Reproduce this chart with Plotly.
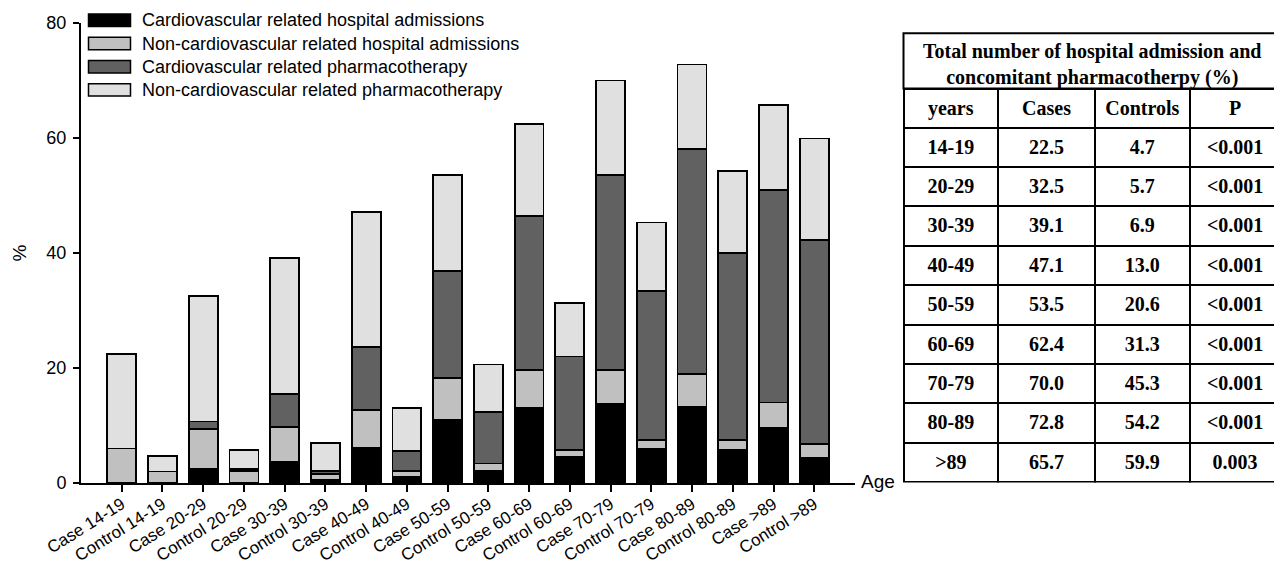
import plotly.graph_objects as go

# ---------------- data ----------------
categories = ["Case 14-19", "Control 14-19", "Case 20-29", "Control 20-29",
              "Case 30-39", "Control 30-39", "Case 40-49", "Control 40-49",
              "Case 50-59", "Control 50-59", "Case 60-69", "Control 60-69",
              "Case 70-79", "Control 70-79", "Case 80-89", "Control 80-89",
              "Case >89", "Control >89"]

cv_hosp = [0.0, 0.0, 2.4, 0.0, 3.6, 0.5, 6.1, 1.0, 10.9,
           2.1, 13.1, 4.6, 13.7, 5.9, 13.2, 5.7, 9.5, 4.4]
noncv_hosp = [6.0, 2.0, 7.0, 2.1, 6.2, 1.0, 6.6, 1.1, 7.3,
              1.3, 6.5, 1.1, 5.9, 1.6, 5.7, 1.8, 4.5, 2.4]
cv_pharm = [0.0, 0.0, 1.3, 0.4, 5.7, 0.6, 10.9, 3.5, 18.7,
            8.9, 26.9, 16.3, 34.0, 25.9, 39.2, 32.5, 36.9, 35.4]
noncv_pharm = [16.5, 2.7, 21.8, 3.2, 23.6, 4.8, 23.5, 7.4, 16.6,
               8.3, 15.9, 9.3, 16.4, 11.9, 14.7, 14.2, 14.8, 17.7]

series_names = ["Cardiovascular related hospital admissions",
                "Non-cardiovascular related hospital admissions",
                "Cardiovascular related pharmacotherapy",
                "Non-cardiovascular related pharmacotherapy"]
series_colors = ["#000000", "#c0c0c0", "#616161", "#e0e0e0"]

y_ticks = [0, 20, 40, 60, 80]

table_title = ["Total number of hospital admission and", "concomitant pharmacotherpy (%)"]
table_header = ["years", "Cases", "Controls", "P"]
years = ["14-19", "20-29", "30-39", "40-49", "50-59", "60-69", "70-79", "80-89", ">89"]
cases_total = ["22.5", "32.5", "39.1", "47.1", "53.5", "62.4", "70.0", "72.8", "65.7"]
controls_total = ["4.7", "5.7", "6.9", "13.0", "20.6", "31.3", "45.3", "54.2", "59.9"]
p_values = ["<0.001", "<0.001", "<0.001", "<0.001", "<0.001", "<0.001", "<0.001", "<0.001", "0.003"]

# ---------------- layout constants ----------------
OFF = 8                       # page body margin of the rendered html
W, H = 1282 - OFF, 566 - OFF
ML, MR, MT, MB = 81 - OFF, 0, 15, 83
PW, PH = W - ML - MR, H - MT - MB

def px_x(x):                  # reference-image pixel -> paper fraction
    return (x - OFF - ML) / PW

def px_y(y):
    return (H - MB - (y - OFF)) / PH

SANS = "Arial, Liberation Sans, sans-serif"
SERIF = "Times New Roman, Liberation Serif, serif"

fig = go.Figure()

xs = list(range(len(categories)))
for name, vals, col in zip(series_names, [cv_hosp, noncv_hosp, cv_pharm, noncv_pharm], series_colors):
    fig.add_trace(go.Bar(x=xs, y=vals, name=name, width=0.71,
                         marker=dict(color=col, line=dict(color="black", width=1.8)),
                         showlegend=False))

# ---------------- table ----------------
def esc(s):
    return s.replace("<", "&lt;").replace(">", "&gt;")

def bold(vals):
    return ["<b>" + esc(v) + "</b>" for v in vals]

tx0, tx1 = px_x(903.5), px_x(1280.5)
colw = [95, 97, 95, 91]

fig.add_trace(go.Table(
    domain=dict(x=[tx0, tx1], y=[0, px_y(88.5)]),
    columnwidth=colw,
    header=dict(values=bold(table_header), height=38.4,
                line=dict(color="black", width=2), fill=dict(color="white"),
                align="center", font=dict(family=SERIF, size=20, color="black")),
    cells=dict(values=[bold(years), bold(cases_total), bold(controls_total), bold(p_values)],
               height=39.4, line=dict(color="black", width=2), fill=dict(color="white"),
               align="center", font=dict(family=SERIF, size=20, color="black")),
))

shapes = []
annotations = []

# spanning title cell of the table
shapes.append(dict(type="rect", xref="paper", yref="paper",
                   x0=tx0, x1=tx1, y0=px_y(88.5), y1=px_y(33.3),
                   fillcolor="white", line=dict(color="black", width=2)))
annotations.append(dict(text="<b>" + "<br>".join(table_title) + "</b>", xref="paper", yref="paper",
                        x=(tx0 + tx1) / 2, y=px_y(64), xanchor="center", yanchor="middle",
                        showarrow=False, align="center",
                        font=dict(family=SERIF, size=20, color="black")))

# ---------------- custom legend ----------------
row_y = [20.3, 43.5, 66.7, 89.9]
for name, col, ry in zip(series_names, series_colors, row_y):
    shapes.append(dict(type="rect", xref="paper", yref="paper",
                       x0=px_x(88.5), x1=px_x(130.5), y0=px_y(ry + 6.2), y1=px_y(ry - 6.2),
                       fillcolor=col, line=dict(color="black", width=1.5)))
    annotations.append(dict(text=name, xref="paper", yref="paper", x=px_x(140), y=px_y(ry),
                            xanchor="left", yanchor="middle", showarrow=False,
                            font=dict(family=SANS, size=18, color="black")))

annotations.append(dict(text="Age", xref="paper", yref="paper", x=px_x(859), y=px_y(481),
                        xanchor="left", yanchor="middle", showarrow=False,
                        font=dict(family=SANS, size=19, color="black")))
annotations.append(dict(text="%", xref="paper", yref="paper", x=px_x(18.5), y=0.5,
                        xanchor="center", yanchor="middle", showarrow=False, textangle=-90,
                        font=dict(family=SANS, size=19, color="black")))

fig.update_layout(
    width=W, height=H,
    margin=dict(l=ML, r=MR, t=MT, b=MB, pad=0, autoexpand=False),
    barmode="stack", bargap=0.29,
    paper_bgcolor="white", plot_bgcolor="white",
    shapes=shapes, annotations=annotations,
    xaxis=dict(domain=[0, px_x(855)], range=[-1.0, 18.0], tickmode="array",
               tickvals=xs, ticktext=categories, tickangle=-32, automargin=False,
               ticks="outside", ticklen=7, tickwidth=1.5, tickcolor="black",
               showline=True, linewidth=2, linecolor="black",
               showgrid=False, zeroline=False, ticklabelstandoff=-4,
               tickfont=dict(family=SANS, size=17, color="black")),
    yaxis=dict(range=[0, 80], tickmode="array", tickvals=y_ticks, automargin=False,
               ticks="outside", ticklen=6, tickwidth=1.5, tickcolor="black",
               showline=True, linewidth=2, linecolor="black",
               showgrid=False, zeroline=False, ticklabelstandoff=3,
               tickfont=dict(family=SANS, size=18, color="black")),
)

fig.write_html("out.html")
